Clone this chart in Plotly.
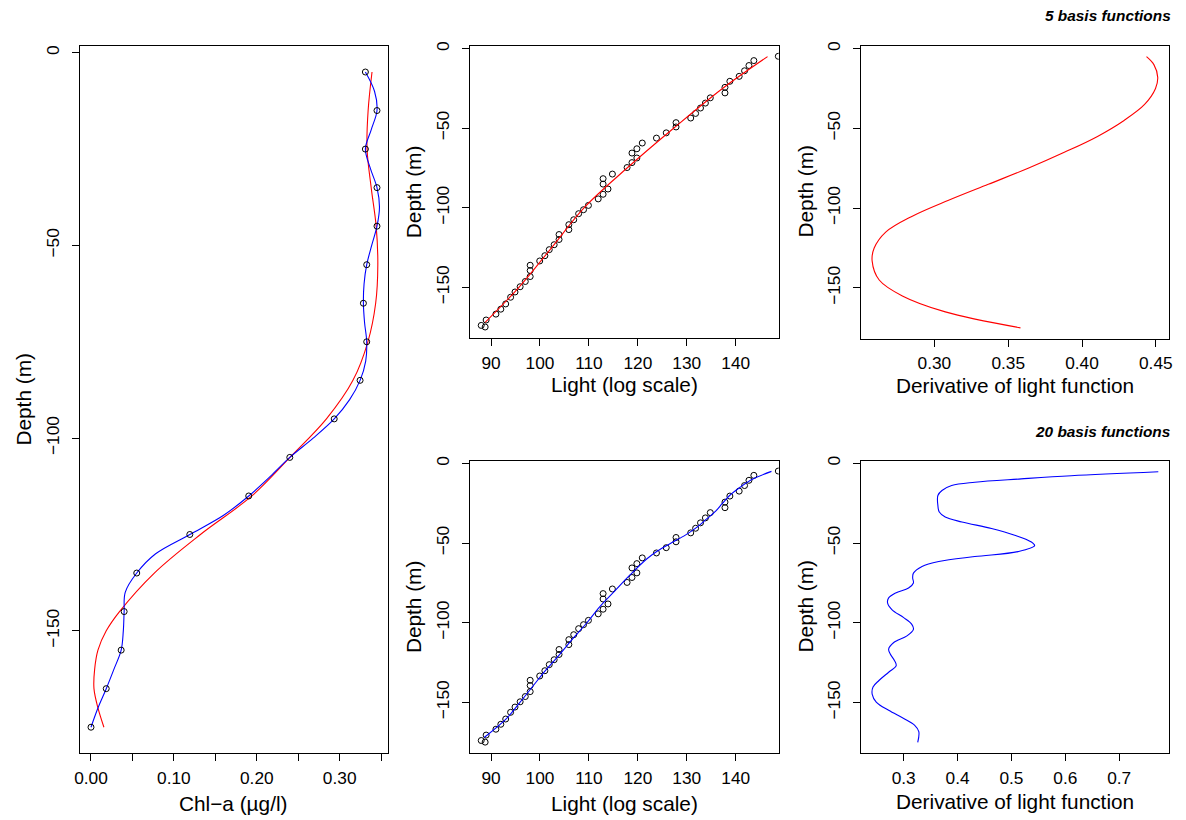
import plotly.graph_objects as go

# ---------------- data ----------------
# Left panel: Chl-a profile
chl_depth = [-5, -15, -25, -35, -45, -55, -65, -75, -85, -95, -105, -115, -125, -135, -145, -155, -165, -175]
chl_value = [0.331, 0.345, 0.331, 0.345, 0.345, 0.3326, 0.3286, 0.3326, 0.3246, 0.2934, 0.2398, 0.1903,
             0.1192, 0.0552, 0.040, 0.0364, 0.0184, 0.0]

# 5-basis fit (red)
chl_red_depth = [-5, -15, -25, -35, -45, -55, -65, -75, -85, -95, -105, -115, -125, -135, -145, -150, -155,
                 -160, -165, -170, -175]
chl_red_value = [0.339, 0.3343, 0.333, 0.338, 0.344, 0.346, 0.3434, 0.334, 0.316, 0.284, 0.240, 0.194, 0.132,
                 0.0764, 0.0344, 0.0184, 0.0084, 0.0044, 0.0036, 0.0084, 0.0156]

# 20-basis fit (blue)
chl_blue_depth = [-5, -10, -15, -20, -25, -30, -35, -40, -45, -50, -55, -60, -65, -70, -75, -80, -85, -90,
                  -95, -100, -105, -110, -115, -120, -125, -130, -135, -140, -145, -150, -155, -160, -165,
                  -170, -175]
chl_blue_value = [0.331, 0.342, 0.345, 0.338, 0.331, 0.337, 0.345, 0.348, 0.345, 0.3386, 0.3326, 0.3294,
                  0.3286, 0.330, 0.3326, 0.3314, 0.3246, 0.312, 0.2934, 0.268, 0.2398, 0.216, 0.1903, 0.160,
                  0.1192, 0.078, 0.0552, 0.0413, 0.040, 0.039, 0.0364, 0.0276, 0.0184, 0.0084, 0.0]

# Middle panels: light observations
light_value = [88.0, 88.8, 89.0, 91.0, 92.0, 93.0, 94.0, 94.9, 95.95, 97.0, 98.0, 98.0, 98.0, 99.95, 101.0,
               101.9, 102.9, 103.9, 103.9, 105.9, 105.9, 106.9, 107.9, 108.9, 109.9, 111.9, 112.9, 113.9,
               112.9, 112.9, 114.8, 117.8, 118.8, 119.8, 118.8, 119.8, 120.9, 123.8, 125.8, 127.8, 127.8,
               130.8, 131.8, 132.8, 133.8, 134.8, 137.8, 137.8, 138.8, 140.7, 141.8, 142.7, 143.7, 148.7]
light_depth = [-173.9, -174.9, -170.5, -166.8, -163.7, -160.4, -156.2, -152.9, -149.6, -146.3, -143.2, -139.4,
               -136.1, -133.4, -130.1, -126.3, -123.2, -119.9, -116.8, -113.7, -110.6, -107.5, -103.7, -101.2,
               -98.5, -94.4, -91.5, -88.2, -85.1, -81.7, -78.8, -74.7, -71.6, -68.7, -65.6, -62.9, -59.3,
               -56.2, -52.9, -49.2, -46.5, -43.6, -40.7, -37.3, -34.2, -30.9, -27.8, -24.3, -20.5, -17.4,
               -13.9, -10.6, -7.5, -4.8]

# light fit, 5 basis functions (red)
light_red_depth = [-172, -150, -125, -100, -75, -50, -25, -5]
light_red_value = [88.8, 95.7, 102.4, 109.0, 117.8, 127.3, 137.3, 146.5]

# light fit, 20 basis functions (blue)
light_blue_depth = [-172, -160, -150, -140, -130, -120, -110, -100, -90, -80, -70, -60, -55, -50, -45, -40,
                    -35, -30, -25, -20, -15, -10, -5]
light_blue_value = [88.6, 93.2, 95.9, 98.5, 101.1, 104.0, 106.7, 109.6, 112.2, 115.3, 118.4, 121.8, 124.0,
                    126.8, 129.7, 132.1, 134.0, 135.9, 137.3, 138.8, 140.9, 143.4, 147.3]

# derivative, 5 basis functions (red)
deriv5_depth = [-5, -10, -18, -25, -35, -45, -55, -65, -75, -85, -95, -105, -115, -125, -133, -145, -155,
                -165, -175]
deriv5_value = [0.4437, 0.4487, 0.4513, 0.4498, 0.4424, 0.4285, 0.4105, 0.388, 0.3635, 0.3365, 0.3096,
                0.285, 0.267, 0.2592, 0.2578, 0.2626, 0.2783, 0.3074, 0.3583]

# derivative, 20 basis functions (blue)
deriv20_depth = [-5.2, -7.7, -9.7, -11.8, -13.9, -17.0, -20.1, -26.3, -30.5, -33.6, -36.7, -40.8, -45.0,
                 -49.1, -51.6, -55.3, -58.4, -61.5, -64.6, -68.8, -71.9, -75.0, -78.1, -81.2, -84.3, -87.4,
                 -91.6, -96.7, -100.9, -104.0, -108.1, -112.3, -116.4, -119.5, -123.7, -126.8, -130.9,
                 -136.1, -140.2, -144.8, -149.6, -154.8, -159.9, -164.1, -168.2, -174.9]
deriv20_value = [0.7726, 0.611, 0.518, 0.432, 0.389, 0.371, 0.3634, 0.3634, 0.366, 0.377, 0.408, 0.463,
                 0.506, 0.536, 0.543, 0.512, 0.432, 0.365, 0.334, 0.318, 0.3166, 0.318, 0.309, 0.285, 0.272,
                 0.270, 0.278, 0.300, 0.315, 0.318, 0.306, 0.2815, 0.272, 0.275, 0.283, 0.286, 0.272,
                 0.254, 0.243, 0.2415, 0.249, 0.272, 0.300, 0.320, 0.328, 0.326]

titles = ["5 basis functions", "20 basis functions"]

# ---------------- layout helpers ----------------
OFF = 8                      # page body margin of the html page
W, H = 1186 - OFF, 820 - OFF  # figure size so that figure + margin fills the window
FONT = "Liberation Sans, Arial, sans-serif"
TICK = 17.3
LAB = 20.8
RED = "#FF0000"
BLUE = "#0000FF"


def xd(a, b):
    return [(a - OFF) / W, (b - OFF) / W]


def yd(top, bottom):
    return [1 - (bottom - OFF) / H, 1 - (top - OFF) / H]


fig = go.Figure()

pt_marker = dict(symbol="circle-open", size=6, color="black", line=dict(width=1, color="black"))

# panel 1
fig.add_trace(go.Scatter(x=chl_red_value, y=chl_red_depth, mode="lines", line=dict(color=RED, width=1.1, shape="spline"),
                         xaxis="x", yaxis="y", showlegend=False))
fig.add_trace(go.Scatter(x=chl_blue_value, y=chl_blue_depth, mode="lines", line=dict(color=BLUE, width=1.1, shape="spline"),
                         xaxis="x", yaxis="y", showlegend=False))
fig.add_trace(go.Scatter(x=chl_value, y=chl_depth, mode="markers", marker=pt_marker, xaxis="x", yaxis="y", showlegend=False))

# panel 2 (middle top)
fig.add_trace(go.Scatter(x=light_value, y=light_depth, mode="markers", marker=pt_marker, xaxis="x2", yaxis="y2",
                         showlegend=False, cliponaxis=True))
fig.add_trace(go.Scatter(x=light_red_value, y=light_red_depth, mode="lines", line=dict(color=RED, width=1.1, shape="spline"),
                         xaxis="x2", yaxis="y2", showlegend=False))

# panel 3 (middle bottom)
fig.add_trace(go.Scatter(x=light_value, y=light_depth, mode="markers", marker=pt_marker, xaxis="x3", yaxis="y3",
                         showlegend=False, cliponaxis=True))
fig.add_trace(go.Scatter(x=light_blue_value, y=light_blue_depth, mode="lines", line=dict(color=BLUE, width=1.1, shape="spline"),
                         xaxis="x3", yaxis="y3", showlegend=False))

# panel 4 (right top)
fig.add_trace(go.Scatter(x=deriv5_value, y=deriv5_depth, mode="lines", line=dict(color=RED, width=1.1, shape="spline"),
                         xaxis="x4", yaxis="y4", showlegend=False))
# panel 5 (right bottom)
fig.add_trace(go.Scatter(x=deriv20_value, y=deriv20_depth, mode="lines", line=dict(color=BLUE, width=1.1, shape="spline"),
                         xaxis="x5", yaxis="y5", showlegend=False))

common = dict(showline=True, mirror=True, linecolor="black", linewidth=1, ticks="outside", ticklen=7,
              tickwidth=1, tickcolor="black", showgrid=False, zeroline=False,
              tickfont=dict(family=FONT, size=TICK, color="black"))

yr = [-181.8, 1.8]
ycommon = dict(common, range=yr, tickvals=[0, -50, -100, -150], tickangle=-90, ticklabelstandoff=6)
xcommon = dict(common, ticklabelstandoff=2)

chl_ticks = [0.0, 0.05, 0.10, 0.15, 0.20, 0.25, 0.30, 0.35]
chl_text = ["0.00", "", "0.10", "", "0.20", "", "0.30", ""]

fig.update_layout(
    width=W, height=H, margin=dict(l=0, r=0, t=0, b=0),
    paper_bgcolor="white", plot_bgcolor="white",
    font=dict(family=FONT, color="black"),
    xaxis=dict(xcommon, domain=xd(75, 386), anchor="y", range=[-0.0138, 0.3588], tickvals=chl_ticks, ticktext=chl_text),
    yaxis=dict(ycommon, domain=yd(41, 753), anchor="x"),
    xaxis2=dict(xcommon, domain=xd(468.3, 779), anchor="y2", range=[85.74, 148.79], tickvals=[90, 100, 110, 120, 130, 140]),
    yaxis2=dict(ycommon, domain=yd(41, 335), anchor="x2"),
    xaxis3=dict(xcommon, domain=xd(468.3, 779), anchor="y3", range=[85.74, 148.79], tickvals=[90, 100, 110, 120, 130, 140]),
    yaxis3=dict(ycommon, domain=yd(458.3, 752.7), anchor="x3"),
    xaxis4=dict(xcommon, domain=xd(861.7, 1172.3), anchor="y4", range=[0.2502, 0.4592],
                tickvals=[0.30, 0.35, 0.40, 0.45], ticktext=["0.30", "0.35", "0.40", "0.45"]),
    yaxis4=dict(ycommon, domain=yd(41, 335.7), anchor="x4"),
    xaxis5=dict(xcommon, domain=xd(861.7, 1172.3), anchor="y5", range=[0.2205, 0.7932],
                tickvals=[0.3, 0.4, 0.5, 0.6, 0.7], ticktext=["0.3", "0.4", "0.5", "0.6", "0.7"]),
    yaxis5=dict(ycommon, domain=yd(458.3, 753), anchor="x5"),
)


def ann(text, x, y, angle=0, size=LAB, xanchor="center", yanchor="middle", xshift=0, yshift=0):
    fig.add_annotation(text=text, x=(x - OFF) / W, y=1 - (y - OFF) / H, xref="paper", yref="paper", showarrow=False,
                       textangle=angle, xanchor=xanchor, yanchor=yanchor, xshift=xshift, yshift=yshift,
                       font=dict(family=FONT, size=size, color="black"))


# axis titles
ann("Chl−a (µg/l)", 230.5, 803)
ann("Light (log scale)", 623.6, 382)
ann("Light (log scale)", 623.6, 803)
ann("Derivative of light function", 1017, 383)
ann("Derivative of light function", 1017, 801)
ann("Depth (m)", 19, 397, angle=-90)
ann("Depth (m)", 412, 188, angle=-90)
ann("Depth (m)", 412, 605.5, angle=-90)
ann("Depth (m)", 806, 188, angle=-90)
ann("Depth (m)", 806, 605.5, angle=-90)

# panel headings
ann("<b><i>" + titles[0] + "</i></b>", 1172, 14, size=15.4, xanchor="right", xshift=4, yshift=3)
ann("<b><i>" + titles[1] + "</i></b>", 1172, 432, size=15.4, xanchor="right", xshift=4, yshift=3)

fig.write_html("out.html")
